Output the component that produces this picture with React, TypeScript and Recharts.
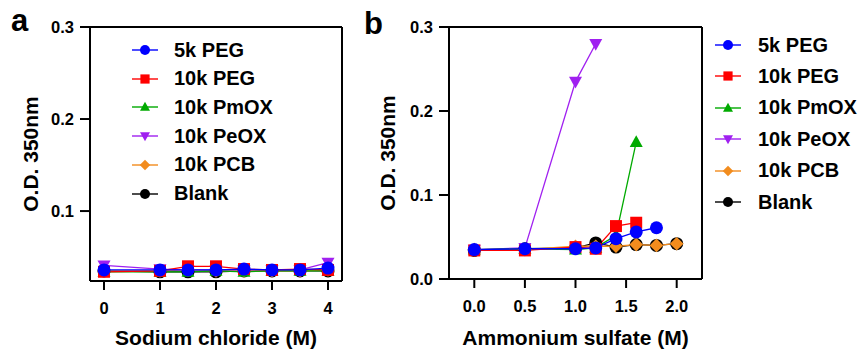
import { LineChart, Line, XAxis, YAxis, ReferenceLine, Label } from 'recharts';

// ---- Data ----
const seriesNames = ['5k PEG', '10k PEG', '10k PmOX', '10k PeOX', '10k PCB', 'Blank'];
const seriesColors = ['#0000FF', '#FF0000', '#00AA00', '#A020F0', '#F28C1E', '#000000'];
const seriesShapes = ['circle', 'square', 'triangle', 'triangleDown', 'diamond', 'circle'];

// panel a: sodium chloride (M)
const naclConc = [0, 1, 1.5, 2, 2.5, 3, 3.5, 4];
const nacl5kPEG = [0.036, 0.036, 0.036, 0.036, 0.037, 0.036, 0.036, 0.038];
const nacl10kPEG = [0.034, 0.035, 0.040, 0.040, 0.037, 0.036, 0.037, 0.036];
const nacl10kPmOX = [0.034, 0.034, 0.034, 0.035, 0.034, 0.035, 0.035, 0.035];
const nacl10kPeOX = [0.041, 0.037, 0.036, 0.036, 0.036, 0.036, 0.036, 0.044];
const nacl10kPCB = [0.035, 0.035, 0.036, 0.035, 0.035, 0.035, 0.035, 0.036];
const naclBlank = [0.035, 0.034, 0.034, 0.034, 0.035, 0.035, 0.035, 0.035];

// panel b: ammonium sulfate (M)
const amsConc = [0, 0.5, 1.0, 1.2, 1.4, 1.6, 1.8, 2.0];
const ams5kPEG = [0.035, 0.036, 0.036, 0.037, 0.048, 0.056, 0.061];
const ams10kPEG = [0.034, 0.034, 0.038, 0.036, 0.063, 0.067];
const ams10kPmOX = [0.035, 0.036, 0.035, 0.037, 0.052, 0.163];
const ams10kPeOX = [0.035, 0.037, 0.235, 0.28];
const ams10kPCB = [0.035, 0.035, 0.039, 0.039, 0.039, 0.041, 0.040, 0.042];
const amsBlank = [0.034, 0.036, 0.037, 0.043, 0.038, 0.041, 0.040, 0.042];

const naclTicksX = [0, 1, 2, 3, 4];
const naclTicksY = [0.1, 0.2, 0.3];
const amsTicksX = [0, 0.5, 1.0, 1.5, 2.0];
const amsTicksY = [0, 0.1, 0.2, 0.3];

const FONT = '"Liberation Sans", Arial, Helvetica, sans-serif';

const toPoints = (conc: number[], vals: number[]) =>
  vals.map((v, i) => ({ x: conc[i], y: v }));

function Marker({ shape, cx, cy, color, r }: any) {
  if (cx == null || cy == null) return null;
  switch (shape) {
    case 'square':
      return <rect x={cx - r * 0.92} y={cy - r * 0.92} width={r * 1.84} height={r * 1.84} fill={color} />;
    case 'triangle':
      return (
        <polygon
          points={`${cx},${cy - r * 1.05} ${cx + r},${cy + r * 0.75} ${cx - r},${cy + r * 0.75}`}
          fill={color}
        />
      );
    case 'triangleDown':
      return (
        <polygon
          points={`${cx},${cy + r * 1.05} ${cx + r},${cy - r * 0.75} ${cx - r},${cy - r * 0.75}`}
          fill={color}
        />
      );
    case 'diamond':
      return (
        <polygon
          points={`${cx},${cy - r * 1.05} ${cx + r * 1.05},${cy} ${cx},${cy + r * 1.05} ${cx - r * 1.05},${cy}`}
          fill={color}
        />
      );
    default:
      return <circle cx={cx} cy={cy} r={r} fill={color} />;
  }
}

const axisTick = { fontSize: 16.5, fontWeight: 'bold', fill: '#000', fontFamily: FONT };

function xTitle(text: string) {
  return ({ viewBox }: any) => (
    <text
      x={viewBox.x + viewBox.width / 2}
      y={viewBox.y + viewBox.height - 4}
      textAnchor="middle"
      fontSize={21}
      fontWeight="bold"
      fontFamily={FONT}
      fill="#000"
    >
      {text}
    </text>
  );
}

function yTitle(text: string, offset: number) {
  return ({ viewBox }: any) => {
    const x = viewBox.x + offset;
    const y = viewBox.y + viewBox.height / 2;
    return (
      <text
        x={x}
        y={y}
        dy="0.36em"
        transform={`rotate(-90, ${x}, ${y})`}
        textAnchor="middle"
        fontSize={21}
        fontWeight="bold"
        fontFamily={FONT}
        fill="#000"
      >
        {text}
      </text>
    );
  };
}

function Panel({
  series,
  xDomain,
  yDomain,
  xTicks,
  yTicks,
  width,
  yAxisWidth,
  xAxisHeight,
  marginRight,
  xLabel,
  yLabelOffset,
  yFmt,
  xFmt,
}: any) {
  return (
    <LineChart
      width={width}
      height={349}
      margin={{ top: 27, right: marginRight, bottom: 0, left: 0 }}
    >
      <XAxis
        type="number"
        dataKey="x"
        domain={xDomain}
        ticks={xTicks}
        allowDataOverflow
        tickFormatter={xFmt}
        height={xAxisHeight}
        tick={axisTick}
        tickSize={9}
        tickMargin={12}
        axisLine={{ stroke: '#000', strokeWidth: 2 }}
        tickLine={{ stroke: '#000', strokeWidth: 2 }}
      >
        <Label content={xTitle(xLabel)} />
      </XAxis>
      <YAxis
        type="number"
        dataKey="y"
        domain={yDomain}
        ticks={yTicks}
        allowDataOverflow
        tickFormatter={yFmt}
        width={yAxisWidth}
        tick={axisTick}
        tickSize={10}
        tickMargin={6}
        axisLine={{ stroke: '#000', strokeWidth: 2 }}
        tickLine={{ stroke: '#000', strokeWidth: 2 }}
      >
        <Label content={yTitle('O.D. 350nm', yLabelOffset)} />
      </YAxis>
      <ReferenceLine y={yDomain[1]} stroke="#000" strokeWidth={2} />
      <ReferenceLine x={xDomain[1]} stroke="#000" strokeWidth={2} />
      {series.map((s: any) => (
        <Line
          key={s.name}
          data={s.points}
          dataKey="y"
          name={s.name}
          type="linear"
          stroke={s.color}
          strokeWidth={1.3}
          isAnimationActive={false}
          dot={(p: any) => (
            <Marker key={`${s.name}-${p.index}`} shape={s.shape} cx={p.cx} cy={p.cy} color={s.color} r={6.5} />
          )}
          activeDot={false}
        />
      ))}
    </LineChart>
  );
}

function LegendBox({ left, top, step, textLeft }: any) {
  return (
    <>
      {seriesNames.map((name, i) => (
        <div
          key={name}
          style={{
            position: 'absolute',
            left,
            top: top + i * step - 12,
            height: 24,
            display: 'flex',
            alignItems: 'center',
          }}
        >
          <svg width={28} height={24}>
            <line x1={1} y1={12} x2={27} y2={12} stroke={seriesColors[i]} strokeWidth={1.4} />
            <Marker shape={seriesShapes[i]} cx={14} cy={12} color={seriesColors[i]} r={5} />
          </svg>
          <span
            style={{
              marginLeft: textLeft - left - 28,
              fontSize: 20,
              fontWeight: 'bold',
              fontFamily: FONT,
              color: '#000',
              whiteSpace: 'nowrap',
            }}
          >
            {name}
          </span>
        </div>
      ))}
    </>
  );
}

export default function App() {
  const naclVals = [nacl5kPEG, nacl10kPEG, nacl10kPmOX, nacl10kPeOX, nacl10kPCB, naclBlank];
  const amsVals = [ams5kPEG, ams10kPEG, ams10kPmOX, ams10kPeOX, ams10kPCB, amsBlank];

  // draw Blank first, 5k PEG last (on top)
  const build = (conc: number[], vals: number[][]) =>
    seriesNames
      .map((name, i) => ({
        name,
        color: seriesColors[i],
        shape: seriesShapes[i],
        points: toPoints(conc, vals[i]),
      }))
      .reverse();

  const fmt1 = (v: number) => v.toFixed(1);

  return (
    <div
      style={{
        position: 'absolute',
        left: 0,
        top: 0,
        width: 864,
        height: 349,
        background: '#fff',
        fontFamily: FONT,
        overflow: 'hidden',
      }}
    >
      <div style={{ position: 'absolute', left: 0, top: 0 }}>
        <Panel
          series={build(naclConc, naclVals)}
          xDomain={[-0.25, 4.25]}
          yDomain={[0.024, 0.3]}
          xTicks={naclTicksX}
          yTicks={naclTicksY}
          width={345}
          yAxisWidth={90}
          xAxisHeight={68}
          marginRight={3}
          xLabel="Sodium chloride (M)"
          yLabelOffset={30}
          yFmt={fmt1}
          xFmt={(v: number) => String(v)}
        />
      </div>
      <div style={{ position: 'absolute', left: 345, top: 0 }}>
        <Panel
          series={build(amsConc, amsVals)}
          xDomain={[-0.25, 2.25]}
          yDomain={[0, 0.3]}
          xTicks={amsTicksX}
          yTicks={amsTicksY}
          width={519}
          yAxisWidth={104}
          xAxisHeight={70}
          marginRight={162}
          xLabel="Ammonium sulfate (M)"
          yLabelOffset={42}
          yFmt={fmt1}
          xFmt={fmt1}
        />
      </div>
      <LegendBox left={131} top={50} step={28.7} textLeft={174} />
      <LegendBox left={714} top={45} step={31.4} textLeft={758} />
      <div
        style={{
          position: 'absolute',
          left: 11,
          top: 0,
          fontSize: 31,
          fontWeight: 'bold',
          lineHeight: '42px',
          fontFamily: FONT,
        }}
      >
        a
      </div>
      <div
        style={{
          position: 'absolute',
          left: 364,
          top: 3,
          fontSize: 31,
          fontWeight: 'bold',
          lineHeight: '42px',
          fontFamily: FONT,
        }}
      >
        b
      </div>
    </div>
  );
}
